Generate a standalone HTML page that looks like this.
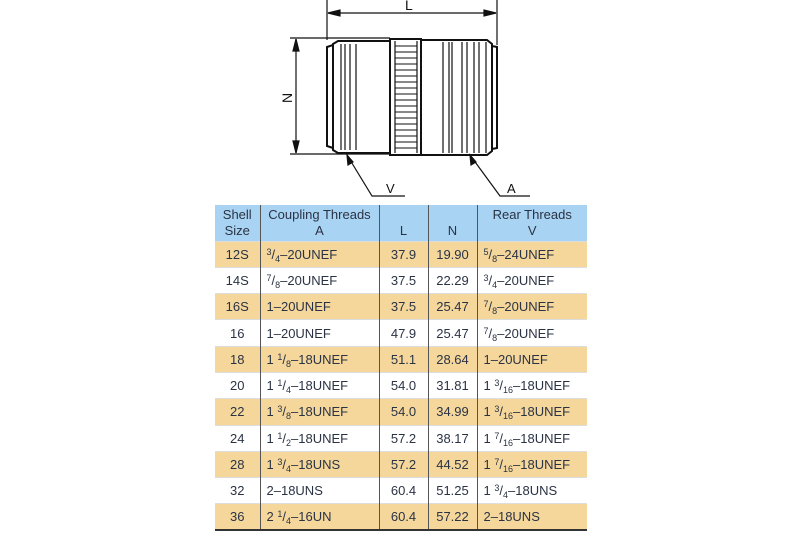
<!DOCTYPE html>
<html><head><meta charset="utf-8"><style>
body{margin:0;width:800px;height:534px;background:#fff;overflow:hidden;position:relative;font-family:"Liberation Sans",sans-serif;}
svg{position:absolute;left:0;top:0}
table{position:absolute;left:215px;top:205px;width:372px;border-collapse:collapse;table-layout:fixed;color:#2a3344;font-size:13px;}
td{height:26.3px;padding:0;border-left:1.5px solid #555;border-top:1px solid #ddd;vertical-align:middle;white-space:nowrap;line-height:15px;box-sizing:border-box}
td:first-child{border-left:none;text-align:center}
tr.h td{height:36px;background:#a9d3f3;border-top:none;line-height:16px}
tr.o td{background:#f5d79c}
td.c{text-align:center}
td.l{padding-left:6px}
tr:last-child td{border-bottom:2px solid #333}
.f{font-size:9px;position:relative;line-height:0}
.u{top:-4px}.d{top:3px}
</style></head><body>
<svg width="800" height="205" viewBox="0 0 800 205" fill="none" stroke="#111" stroke-width="1.2">
<line x1="327" y1="0" x2="327" y2="40"/><line x1="497" y1="0" x2="497" y2="45"/>
<line x1="328" y1="13" x2="496" y2="13"/>
<path d="M328 13l12 -3v6z M496 13l-12 -3v6z" fill="#111"/>
<text x="405" y="10" font-size="14" fill="#111" stroke="none" font-family="Liberation Sans">L</text>
<line x1="290" y1="38" x2="390" y2="38"/><line x1="290" y1="154" x2="390" y2="154"/>
<line x1="296" y1="39" x2="296" y2="153"/>
<path d="M296 39l-3 12h6z M296 153l-3 -12h6z" fill="#111"/>
<text x="0" y="0" font-size="14" fill="#111" stroke="none" font-family="Liberation Sans" transform="translate(292,103) rotate(-90)">N</text>
<g stroke-width="2">
<path d="M333 45 L327 47 L327 146 L333 148"/>
<path d="M333 44 L338 41 L390 41 L390 153 L338 153 L333 150 Z"/>
<rect x="390" y="39" width="31" height="116"/>
<path d="M421 40 L487 40 L492 44 L492 151 L487 155 L421 155"/>
<path d="M492 46 L497 47 L497 148 L492 149"/>
</g>
<g stroke-width="1.2">
<line x1="341" y1="44" x2="341" y2="150"/><line x1="345" y1="44" x2="345" y2="150"/>
<line x1="350" y1="44" x2="350" y2="150"/><line x1="356" y1="44" x2="356" y2="150"/>
<line x1="443" y1="42" x2="443" y2="153"/><line x1="449" y1="42" x2="449" y2="153"/>
<line x1="452" y1="42" x2="452" y2="153"/><line x1="462" y1="42" x2="462" y2="153"/>
<line x1="467" y1="42" x2="467" y2="153"/><line x1="474" y1="42" x2="474" y2="153"/>
<line x1="479" y1="42" x2="479" y2="153"/><line x1="486" y1="42" x2="486" y2="153"/>
<line x1="395" y1="41" x2="395" y2="153"/><line x1="417" y1="41" x2="417" y2="153"/>
</g>
<g stroke-width="1">
<path d="M395 46h22M395 52h22M395 58h22M395 64h22M395 70h22M395 76h22M395 82h22M395 88h22M395 94h22M395 100h22M395 106h22M395 112h22M395 118h22M395 124h22M395 130h22M395 136h22M395 142h22M395 148h22"/>
</g>
<path d="M347 155 L372 196 L405 196"/><path d="M347 155l1 10l5 -3z" fill="#111"/>
<path d="M470 155 L500 196 L530 196"/><path d="M470 155l1 10l5 -3z" fill="#111"/>
<text x="386" y="193" font-size="13" fill="#111" stroke="none" font-family="Liberation Sans">V</text>
<text x="507" y="193" font-size="13" fill="#111" stroke="none" font-family="Liberation Sans">A</text>
</svg>
<table>
<colgroup><col style="width:45px"><col style="width:119px"><col style="width:49px"><col style="width:49px"><col></colgroup>
<tr class="h"><td>Shell<br>Size</td><td class="c">Coupling Threads<br>A</td><td class="c" style="vertical-align:bottom;padding-bottom:2px">L</td><td class="c" style="vertical-align:bottom;padding-bottom:2px">N</td><td class="c">Rear Threads<br>V</td></tr>
<tr class="o"><td>12S</td><td class="l"><span class="f u">3</span>/<span class="f d">4</span>–20UNEF</td><td class="c">37.9</td><td class="c">19.90</td><td class="l"><span class="f u">5</span>/<span class="f d">8</span>–24UNEF</td></tr>
<tr><td>14S</td><td class="l"><span class="f u">7</span>/<span class="f d">8</span>–20UNEF</td><td class="c">37.5</td><td class="c">22.29</td><td class="l"><span class="f u">3</span>/<span class="f d">4</span>–20UNEF</td></tr>
<tr class="o"><td>16S</td><td class="l">1–20UNEF</td><td class="c">37.5</td><td class="c">25.47</td><td class="l"><span class="f u">7</span>/<span class="f d">8</span>–20UNEF</td></tr>
<tr><td>16</td><td class="l">1–20UNEF</td><td class="c">47.9</td><td class="c">25.47</td><td class="l"><span class="f u">7</span>/<span class="f d">8</span>–20UNEF</td></tr>
<tr class="o"><td>18</td><td class="l">1 <span class="f u">1</span>/<span class="f d">8</span>–18UNEF</td><td class="c">51.1</td><td class="c">28.64</td><td class="l">1–20UNEF</td></tr>
<tr><td>20</td><td class="l">1 <span class="f u">1</span>/<span class="f d">4</span>–18UNEF</td><td class="c">54.0</td><td class="c">31.81</td><td class="l">1 <span class="f u">3</span>/<span class="f d">16</span>–18UNEF</td></tr>
<tr class="o"><td>22</td><td class="l">1 <span class="f u">3</span>/<span class="f d">8</span>–18UNEF</td><td class="c">54.0</td><td class="c">34.99</td><td class="l">1 <span class="f u">3</span>/<span class="f d">16</span>–18UNEF</td></tr>
<tr><td>24</td><td class="l">1 <span class="f u">1</span>/<span class="f d">2</span>–18UNEF</td><td class="c">57.2</td><td class="c">38.17</td><td class="l">1 <span class="f u">7</span>/<span class="f d">16</span>–18UNEF</td></tr>
<tr class="o"><td>28</td><td class="l">1 <span class="f u">3</span>/<span class="f d">4</span>–18UNS</td><td class="c">57.2</td><td class="c">44.52</td><td class="l">1 <span class="f u">7</span>/<span class="f d">16</span>–18UNEF</td></tr>
<tr><td>32</td><td class="l">2–18UNS</td><td class="c">60.4</td><td class="c">51.25</td><td class="l">1 <span class="f u">3</span>/<span class="f d">4</span>–18UNS</td></tr>
<tr class="o"><td>36</td><td class="l">2 <span class="f u">1</span>/<span class="f d">4</span>–16UN</td><td class="c">60.4</td><td class="c">57.22</td><td class="l">2–18UNS</td></tr>
</table>
</body></html>
